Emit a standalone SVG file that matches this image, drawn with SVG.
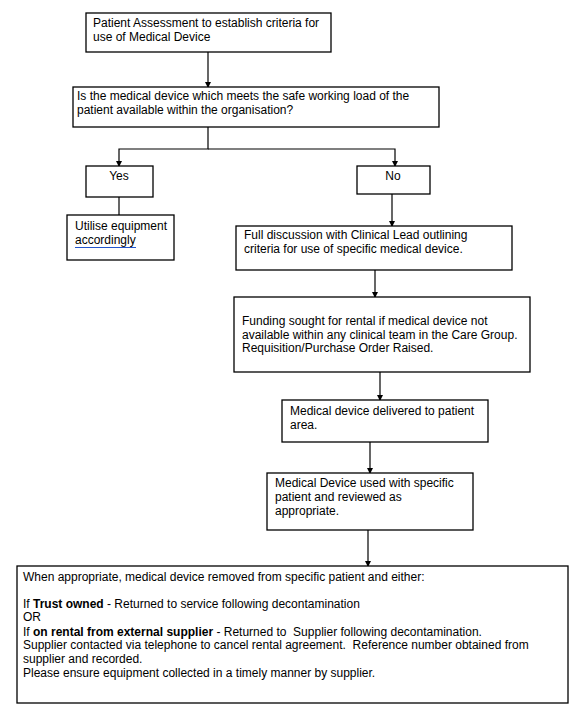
<svg xmlns="http://www.w3.org/2000/svg" width="582" height="715" viewBox="0 0 582 715">
<style>
.box{fill:#fff;stroke:#000;stroke-width:1.3}
text{font-family:"Liberation Sans",Arial,sans-serif;font-size:12px;fill:#000}
.b{font-weight:bold}
.c{stroke:#000;stroke-width:1.2;fill:none}
</style>
<defs>
<marker id="ah" markerWidth="6" markerHeight="6" refX="5" refY="3" orient="auto" markerUnits="userSpaceOnUse">
<path d="M0,0 L6,3 L0,6 z" fill="#000"/>
</marker>
</defs>
<rect width="582" height="715" fill="#fff"/>
<g id="connectors">
<path class="c" d="M208,52 V87" marker-end="url(#ah)"/>
<path class="c" d="M208,127 V149 H119 V166" marker-end="url(#ah)"/>
<path class="c" d="M208,149 H395 V166" marker-end="url(#ah)"/>
<path class="c" d="M119,197 V215"/>
<path class="c" d="M392,194 V226" marker-end="url(#ah)"/>
<path class="c" d="M375,270 V297" marker-end="url(#ah)"/>
<path class="c" d="M380,372 V400" marker-end="url(#ah)"/>
<path class="c" d="M370,442 V473" marker-end="url(#ah)"/>
<path class="c" d="M368,530 V566" marker-end="url(#ah)"/>
</g>
<g id="n1"><rect class="box" x="86" y="13" width="245" height="39"/>
<text x="93" y="27">Patient Assessment to establish criteria for</text>
<text x="93" y="41">use of Medical Device</text></g>
<g id="n2"><rect class="box" x="73" y="87" width="366" height="40"/>
<text x="77" y="100">Is the medical device which meets the safe working load of the</text>
<text x="77" y="114">patient available within the organisation?</text></g>
<g id="yes"><rect class="box" x="86" y="166" width="67" height="31"/>
<text x="119" y="180" text-anchor="middle">Yes</text></g>
<g id="no"><rect class="box" x="357" y="166" width="73" height="28"/>
<text x="393" y="180" text-anchor="middle">No</text></g>
<g id="utilise"><rect class="box" x="67" y="215" width="107" height="45"/>
<text x="75" y="230">Utilise equipment</text>
<text x="75" y="244">accordingly</text>
<line x1="75" y1="247.5" x2="136" y2="247.5" stroke="#2255cc" stroke-width="1"/></g>
<g id="discuss"><rect class="box" x="236" y="226" width="276" height="44"/>
<text x="244" y="239">Full discussion with Clinical Lead outlining</text>
<text x="244" y="253">criteria for use of specific medical device.</text></g>
<g id="funding"><rect class="box" x="234" y="297" width="296" height="75"/>
<text x="242" y="325">Funding sought for rental if medical device not</text>
<text x="242" y="339">available within any clinical team in the Care Group.</text>
<text x="242" y="352">Requisition/Purchase Order Raised.</text></g>
<g id="delivered"><rect class="box" x="282" y="400" width="206" height="42"/>
<text x="290" y="415">Medical device delivered to patient</text>
<text x="290" y="429">area.</text></g>
<g id="used"><rect class="box" x="267" y="473" width="206" height="57"/>
<text x="275" y="487">Medical Device used with specific</text>
<text x="275" y="501">patient and reviewed as</text>
<text x="275" y="515">appropriate.</text></g>
<g id="final"><rect class="box" x="17" y="566" width="551" height="137"/>
<text x="23" y="581">When appropriate, medical device removed from specific patient and either:</text>
<text x="23" y="608">If <tspan class="b">Trust owned</tspan> - Returned to service following decontamination</text>
<text x="23" y="621">OR</text>
<text x="23" y="636">If <tspan class="b">on rental from external supplier</tspan> - Returned to&#160; Supplier following decontamination.</text>
<text x="23" y="649">Supplier contacted via telephone to cancel rental agreement.&#160; Reference number obtained from</text>
<text x="23" y="663">supplier and recorded.</text>
<text x="23" y="677">Please ensure equipment collected in a timely manner by supplier.</text></g>
</svg>
